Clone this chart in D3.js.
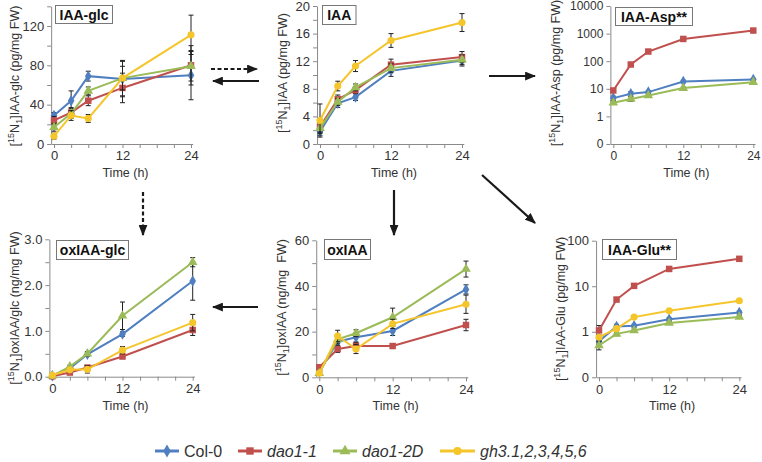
<!DOCTYPE html>
<html><head><meta charset="utf-8">
<script src="https://cdn.jsdelivr.net/npm/d3@7"></script>
<style>
html,body{margin:0;padding:0;background:#fff;}
svg{display:block;font-family:"Liberation Sans",Arial,sans-serif;}
</style></head>
<body><svg id="c" width="762" height="462"></svg>
<script>
// ---------- DATA ----------
const times = [0, 3, 6, 12, 24];
const seriesNames = ["Col-0", "dao1-1", "dao1-2D", "gh3.1,2,3,4,5,6"];
const xTickValues = [0, 3, 6, 9, 12, 15, 18, 21, 24];
const xTickLabels = [0, 12, 24];

// IAA-glc (pg/mg FW)
const iaaGlcCol0 = [29, 44, 69, 66, 70];
const iaaGlcDao11 = [24, 32, 44, 57, 80];
const iaaGlcDao12D = [17, 31, 54, 67, 79];
const iaaGlcGh3 = [8, 29, 26, 67, 111];
const iaaGlcCol0Err = [3, 10, 5, 18, 25];
const iaaGlcDao11Err = [4, 5, 5, 15, 20];
const iaaGlcDao12DErr = [4, 5, 4, 12, 15];
const iaaGlcGh3Err = [3, 5, 4, 18, 20];

// IAA (pg/mg FW)
const iaaCol0 = [1.8, 5.9, 6.8, 10.6, 12.1];
const iaaDao11 = [2.5, 6.5, 7.8, 11.5, 12.6];
const iaaDao12D = [2.3, 6.1, 8.2, 11.0, 12.2];
const iaaGh3 = [3.4, 8.4, 11.3, 15.0, 17.6];
const iaaCol0Err = [0.6, 0.6, 0.5, 0.8, 0.8];
const iaaDao11Err = [0.8, 0.6, 0.5, 0.8, 0.8];
const iaaDao12DErr = [0.8, 0.5, 0.5, 0.6, 0.7];
const iaaGh3Err = [2.4, 0.7, 0.8, 1.0, 1.3];

// IAA-Asp (pg/mg FW), log axis
const aspCol0 = [4.6, 6.6, 7.6, 18.4, 21.7];
const aspDao11 = [8.7, 76, 224, 640, 1290];
const aspDao12D = [3.1, 4.3, 5.7, 10.6, 17.4];
const aspCol0Err = [0.8, 1.2, 0.8, 2, 2];
const aspDao11Err = [1, 8, 20, 60, 100];
const aspDao12DErr = [0.4, 0.8, 0.6, 1, 1.5];

// oxIAA-glc (ng/mg FW)
const oxGlcCol0 = [0.02, 0.18, 0.49, 0.93, 2.09];
const oxGlcDao11 = [0.01, 0.09, 0.20, 0.44, 1.02];
const oxGlcDao12D = [0.02, 0.22, 0.50, 1.33, 2.50];
const oxGlcGh3 = [0.03, 0.15, 0.16, 0.58, 1.18];
const oxGlcCol0Err = [0.02, 0.03, 0.04, 0.05, 0.42];
const oxGlcDao11Err = [0.02, 0.02, 0.03, 0.04, 0.12];
const oxGlcDao12DErr = [0.02, 0.03, 0.05, 0.30, 0.10];
const oxGlcGh3Err = [0.02, 0.05, 0.08, 0.08, 0.18];

// oxIAA (ng/mg FW)
const oxCol0 = [2.5, 15.6, 17.5, 20.3, 38.5];
const oxDao11 = [4.4, 12.4, 13.7, 13.7, 22.9];
const oxDao12D = [1.8, 16.6, 19.3, 26.3, 47.4];
const oxGh3 = [1.8, 18.1, 12.4, 23.4, 32.0];
const oxCol0Err = [0.8, 2, 2, 2, 2];
const oxDao11Err = [1, 1.5, 1.5, 1, 2.5];
const oxDao12DErr = [1, 2, 1.5, 4, 3.5];
const oxGh3Err = [1, 2.5, 2, 2, 4];

// IAA-Glu (pg/mg FW), log axis
const gluCol0 = [0.62, 1.31, 1.36, 1.88, 2.64];
const gluDao11 = [1.07, 5.1, 10.2, 24, 40];
const gluDao12D = [0.50, 0.90, 1.07, 1.56, 2.12];
const gluGh3 = [0.76, 1.17, 2.1, 2.88, 4.8];
const gluCol0Err = [0.1, 0.15, 0.1, 0.15, 0.2];
const gluDao11Err = [0.3, 0.5, 0.8, 3, 3];
const gluDao12DErr = [0.1, 0.08, 0.08, 0.1, 0.15];
const gluGh3Err = [0.1, 0.1, 0.15, 0.2, 0.3];

// ---------- STYLE ----------
const colors = ["#4f7fc0", "#c0504d", "#9bbb59", "#f5c52c"];
const symbols = [d3.symbolDiamond, d3.symbolSquare, d3.symbolTriangle, d3.symbolCircle];
const symSizes = [38, 42, 40, 40];

const svg = d3.select("#c");
const defs = svg.append("defs");
defs.append("marker").attr("id", "ah").attr("viewBox", "0 0 10 8")
  .attr("refX", 9).attr("refY", 4).attr("markerWidth", 11).attr("markerHeight", 9)
  .attr("markerUnits", "userSpaceOnUse").attr("orient", "auto")
  .append("path").attr("d", "M0,0 L10,4 L0,8 Z").attr("fill", "#1a1a1a");

function drawPanel(cfg) {
  const g = svg.append("g");
  const k = (cfg.x24 - cfg.x0) / 24;
  const x = d3.scaleLinear().domain([-0.5, 24.3]).range([cfg.x0 - 0.5 * k, cfg.x24 + 0.3 * k]);
  const y = cfg.log
    ? d3.scaleLog().domain(cfg.yDomain).range([cfg.yB, cfg.yT])
    : d3.scaleLinear().domain(cfg.yDomain).range([cfg.yB, cfg.yT]);
  const axisX = x(-0.5);

  const yAx = d3.axisLeft(y).tickValues(cfg.yTicks).tickSize(4).tickSizeOuter(0).tickPadding(3)
    .tickFormat(d => cfg.yLabels.includes(d) ? cfg.yFmt(d) : "");
  const ya = g.append("g").attr("transform", `translate(${axisX},0)`).call(yAx);
  const xAx = d3.axisBottom(x).tickValues(xTickValues).tickSize(4).tickSizeOuter(0).tickPadding(3)
    .tickFormat(d => xTickLabels.includes(d) ? d : "");
  const xa = g.append("g").attr("transform", `translate(0,${cfg.yB})`).call(xAx);
  [ya, xa].forEach(a => {
    a.selectAll("path,line").attr("stroke", "#8a8a8a");
    a.selectAll("text").attr("fill", "#333").style("font-size", cfg.tickFont + "px")
      .style("font-family", "Liberation Sans, Arial, sans-serif");
  });

  // axis titles
  g.append("text").attr("x", (x(0) + x(24)) / 2 + 3).attr("y", cfg.yB + 33)
    .attr("text-anchor", "middle").attr("fill", "#333").style("font-size", "12.5px").text("Time (h)");
  const t = g.append("text").attr("transform", `translate(${cfg.labX},${cfg.labY}) rotate(-90)`)
    .attr("text-anchor", "middle").attr("fill", "#333").style("font-size", "12.5px");
  t.append("tspan").text("[");
  t.append("tspan").attr("dy", -5).style("font-size", "9px").text("15");
  t.append("tspan").attr("dy", 5).text("N");
  t.append("tspan").attr("dy", 3).style("font-size", "9px").text("1");
  t.append("tspan").attr("dy", -3).text("]" + cfg.label);

  // series
  cfg.series.forEach((s, i) => {
    if (!s) return;
    const vals = s.v.map((v, j) => ({ t: times[j], v, e: s.e[j] }));
    const sg = g.append("g");
    // error bars
    vals.forEach(d => {
      const lo = cfg.log ? Math.max(d.v - d.e, cfg.yDomain[0]) : Math.max(d.v - d.e, cfg.yDomain[0]);
      const hi = d.v + d.e;
      const cx = x(d.t);
      sg.append("line").attr("x1", cx).attr("x2", cx).attr("y1", y(lo)).attr("y2", y(hi))
        .attr("stroke", "#222").attr("stroke-width", 1);
      [lo, hi].forEach(vv => sg.append("line").attr("x1", cx - 2.5).attr("x2", cx + 2.5)
        .attr("y1", y(vv)).attr("y2", y(vv)).attr("stroke", "#222").attr("stroke-width", 1));
    });
    sg.append("path").datum(vals)
      .attr("d", d3.line().x(d => x(d.t)).y(d => y(d.v)))
      .attr("fill", "none").attr("stroke", colors[i]).attr("stroke-width", 2);
    sg.selectAll(".m").data(vals).enter().append("path")
      .attr("transform", d => `translate(${x(d.t)},${y(d.v)})`)
      .attr("d", d3.symbol().type(symbols[i]).size(symSizes[i]))
      .attr("fill", colors[i]);
  });

  // title box
  const bx = cfg.box;
  g.append("rect").attr("x", bx[0]).attr("y", bx[1]).attr("width", bx[2]).attr("height", bx[3])
    .attr("fill", "#fff").attr("stroke", "#777").attr("stroke-width", 1);
  g.append("text").attr("x", bx[0] + bx[2] / 2).attr("y", bx[1] + bx[3] / 2 + 5)
    .attr("text-anchor", "middle").style("font-size", "14px").style("font-weight", "bold")
    .attr("fill", "#111").text(cfg.title);
}

const linFmt = d => d;
const fixFmt = d => d.toFixed(1);
const logFmt = d => d < 1 ? "0" : d3.format("d")(d);

drawPanel({ x0: 54, x24: 191, yB: 144, yT: 6.3, yDomain: [0, 140], log: false,
  yTicks: [0, 20, 40, 60, 80, 100, 120, 140], yLabels: [0, 40, 80, 120], yFmt: linFmt, tickFont: 13,
  labX: 18.5, labY: 76, label: "IAA-glc (pg/mg FW)", title: "IAA-glc", box: [55.5, 5.5, 57, 18],
  series: [{ v: iaaGlcCol0, e: iaaGlcCol0Err }, { v: iaaGlcDao11, e: iaaGlcDao11Err },
           { v: iaaGlcDao12D, e: iaaGlcDao12DErr }, { v: iaaGlcGh3, e: iaaGlcGh3Err }] });

drawPanel({ x0: 320, x24: 462, yB: 144, yT: 6, yDomain: [0, 20], log: false,
  yTicks: [0, 2, 4, 6, 8, 10, 12, 14, 16, 18, 20], yLabels: [0, 4, 8, 12, 16, 20], yFmt: linFmt, tickFont: 13,
  labX: 287, labY: 73, label: "IAA (pg/mg FW)", title: "IAA", box: [322.5, 5.5, 33.5, 19],
  series: [{ v: iaaCol0, e: iaaCol0Err }, { v: iaaDao11, e: iaaDao11Err },
           { v: iaaDao12D, e: iaaDao12DErr }, { v: iaaGh3, e: iaaGh3Err }] });

drawPanel({ x0: 613.3, x24: 753.3, yB: 144, yT: 6, yDomain: [0.1, 10000], log: true,
  yTicks: [0.1, 1, 10, 100, 1000, 10000], yLabels: [0.1, 1, 10, 100, 1000, 10000], yFmt: logFmt, tickFont: 12,
  labX: 560, labY: 73, label: "IAA-Asp (pg/mg FW)", title: "IAA-Asp**", box: [615.5, 7.5, 77, 18],
  series: [{ v: aspCol0, e: aspCol0Err }, { v: aspDao11, e: aspDao11Err },
           { v: aspDao12D, e: aspDao12DErr }, null] });

drawPanel({ x0: 52.3, x24: 192.7, yB: 376.7, yT: 239.3, yDomain: [0, 3], log: false,
  yTicks: [0, 0.5, 1, 1.5, 2, 2.5, 3], yLabels: [0, 1, 2, 3], yFmt: fixFmt, tickFont: 13,
  labX: 18.5, labY: 308, label: "oxIAA/glc (ng/mg FW)", title: "oxIAA-glc", box: [56.5, 240.5, 72, 19],
  series: [{ v: oxGlcCol0, e: oxGlcCol0Err }, { v: oxGlcDao11, e: oxGlcDao11Err },
           { v: oxGlcDao12D, e: oxGlcDao12DErr }, { v: oxGlcGh3, e: oxGlcGh3Err }] });

drawPanel({ x0: 319.3, x24: 466, yB: 377.3, yT: 240.3, yDomain: [0, 60], log: false,
  yTicks: [0, 10, 20, 30, 40, 50, 60], yLabels: [0, 20, 40, 60], yFmt: linFmt, tickFont: 13,
  labX: 286, labY: 307.5, label: "oxIAA (ng/mg\u00a0 FW)", title: "oxIAA", box: [324.5, 239.5, 46, 20],
  series: [{ v: oxCol0, e: oxCol0Err }, { v: oxDao11, e: oxDao11Err },
           { v: oxDao12D, e: oxDao12DErr }, { v: oxGh3, e: oxGh3Err }] });

drawPanel({ x0: 599, x24: 739.3, yB: 377.3, yT: 240.7, yDomain: [0.1, 100], log: true,
  yTicks: [0.1, 1, 10, 100], yLabels: [0.1, 1, 10, 100], yFmt: logFmt, tickFont: 13,
  labX: 565, labY: 309, label: "IAA-Glu (pg/mg FW)", title: "IAA-Glu**", box: [602.5, 239.5, 74, 20],
  series: [{ v: gluCol0, e: gluCol0Err }, { v: gluDao11, e: gluDao11Err },
           { v: gluDao12D, e: gluDao12DErr }, { v: gluGh3, e: gluGh3Err }] });

// ---------- ARROWS ----------
const arrows = [
  { p: [211, 69, 257, 69], dash: true },
  { p: [259, 81, 213, 81], dash: false },
  { p: [489, 76, 535, 76], dash: false },
  { p: [143, 192, 143, 235], dash: true },
  { p: [394, 190, 394, 235], dash: false },
  { p: [482, 175, 535, 223], dash: false },
  { p: [258, 307, 213, 307], dash: false }
];
arrows.forEach(a => {
  svg.append("line").attr("x1", a.p[0]).attr("y1", a.p[1]).attr("x2", a.p[2]).attr("y2", a.p[3])
    .attr("stroke", "#1a1a1a").attr("stroke-width", 2.2)
    .attr("stroke-dasharray", a.dash ? "4,2.5" : null)
    .attr("marker-end", "url(#ah)");
});

// ---------- LEGEND ----------
const legendX = [155, 238, 333, 440];
const legendW = [24, 24, 24, 35];
const lg = svg.append("g");
seriesNames.forEach((n, i) => {
  const x0 = legendX[i], x1 = legendX[i] + legendW[i], ly = 451;
  lg.append("line").attr("x1", x0).attr("x2", x1).attr("y1", ly).attr("y2", ly)
    .attr("stroke", colors[i]).attr("stroke-width", 3);
  lg.append("path").attr("transform", `translate(${(x0 + x1) / 2},${ly})`)
    .attr("d", d3.symbol().type(symbols[i]).size(symSizes[i] * 1.3)).attr("fill", colors[i]);
  lg.append("text").attr("x", x1 + 5).attr("y", 457).attr("fill", "#333")
    .style("font-size", "16px").style("font-style", i === 0 ? "normal" : "italic").text(n);
});
</script></body></html>
